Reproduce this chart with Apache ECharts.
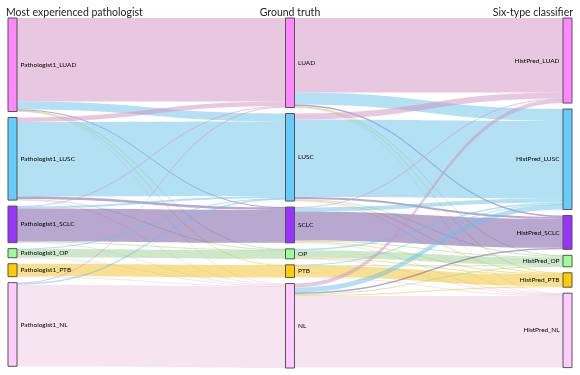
<!DOCTYPE html>
<html>
<head>
<meta charset="utf-8">
<script src="https://cdn.jsdelivr.net/npm/echarts@6/dist/echarts.min.js"></script>
<style>
  html, body { margin: 0; padding: 0; background: #fff; }
  #chart { width: 580px; height: 375px; }
</style>
</head>
<body>
<div id="chart"></div>
<script>
var pathoNames = ['Pathologist1_LUAD', 'Pathologist1_LUSC', 'Pathologist1_SCLC', 'Pathologist1_OP', 'Pathologist1_PTB', 'Pathologist1_NL'];
var truthNames = ['LUAD', 'LUSC', 'SCLC', 'OP', 'PTB', 'NL'];
var predNames = ['HistPred_LUAD', 'HistPred_LUSC', 'HistPred_SCLC', 'HistPred_OP', 'HistPred_PTB', 'HistPred_NL'];

// rows: pathologist class, columns: ground truth class (LUAD, LUSC, SCLC, OP, PTB, NL)
var pathoToTruth = [
    [84, 8, 0.5, 0.4, 0.3, 0.8],
    [4.5, 75, 2.5, 0.5, 0, 0.5],
    [0.5, 2, 33, 0.5, 0, 0.8],
    [0, 0.3, 0, 8.5, 0, 0.3],
    [0, 0, 0, 0, 12.5, 0.5],
    [0.8, 1.3, 0, 0, 0, 82]
];

// rows: ground truth class, columns: classifier prediction
var truthToPred = [
    [75, 12, 1.5, 0.5, 0.5, 0.5],
    [6, 78, 2, 1, 0.5, 0.5],
    [0.5, 4, 29, 1, 1, 0.5],
    [0, 1.5, 0, 7.5, 0.5, 0.5],
    [0, 0.5, 0, 0.5, 11, 0.8],
    [4, 5, 1.5, 1, 1, 72]
];

var nodeColors = ['#ff88ff', '#66ccff', '#9933ff', '#99ff99', '#ffcc00', '#ffccff'];
var linkColors = [
    'rgba(209,145,193,0.5)',
    'rgba(105,193,233,0.5)',
    'rgba(113,81,161,0.5)',
    'rgba(153,209,145,0.5)',
    'rgba(241,193,33,0.5)',
    'rgba(237,201,225,0.5)'
];

var nodes = [];
var links = [];
function addNodes(names, labelPos) {
    names.forEach(function (n, i) {
        nodes.push({
            name: n,
            itemStyle: { color: nodeColors[i], borderColor: '#555', borderWidth: 1 },
            label: { position: labelPos }
        });
    });
}
addNodes(pathoNames, 'right');
addNodes(truthNames, 'right');
addNodes(predNames, 'left');

function addLinks(src, dst, matrix) {
    matrix.forEach(function (row, i) {
        row.forEach(function (v, j) {
            if (v > 0) {
                links.push({
                    source: src[i],
                    target: dst[j],
                    value: v,
                    lineStyle: { color: linkColors[j], opacity: 1 }
                });
            }
        });
    });
}
addLinks(pathoNames, truthNames, pathoToTruth);
addLinks(truthNames, predNames, truthToPred);

var titleFont = { fontSize: 10.5, fontWeight: 'normal', color: '#222', fontFamily: 'Lato' };

var chart = echarts.init(document.getElementById('chart'));
chart.setOption({
    animation: false,
    title: [
        { text: 'Most experienced pathologist', left: 1, top: 2, textStyle: titleFont },
        { text: 'Ground truth', left: 'center', top: 2, textStyle: titleFont },
        { text: 'Six-type classifier', right: 2, top: 2, textStyle: titleFont }
    ],
    series: [
        {
            type: 'sankey',
            left: 8,
            right: 8,
            top: 18,
            bottom: 7,
            nodeWidth: 9,
            nodeGap: 6,
            layoutIterations: 0,
            nodeAlign: 'justify',
            draggable: false,
            emphasis: { disabled: true },
            label: { fontSize: 6.5, color: '#000', fontFamily: 'Lato', distance: 3 },
            lineStyle: { curveness: 0.5 },
            data: nodes,
            links: links
        }
    ]
});
</script>
</body>
</html>
